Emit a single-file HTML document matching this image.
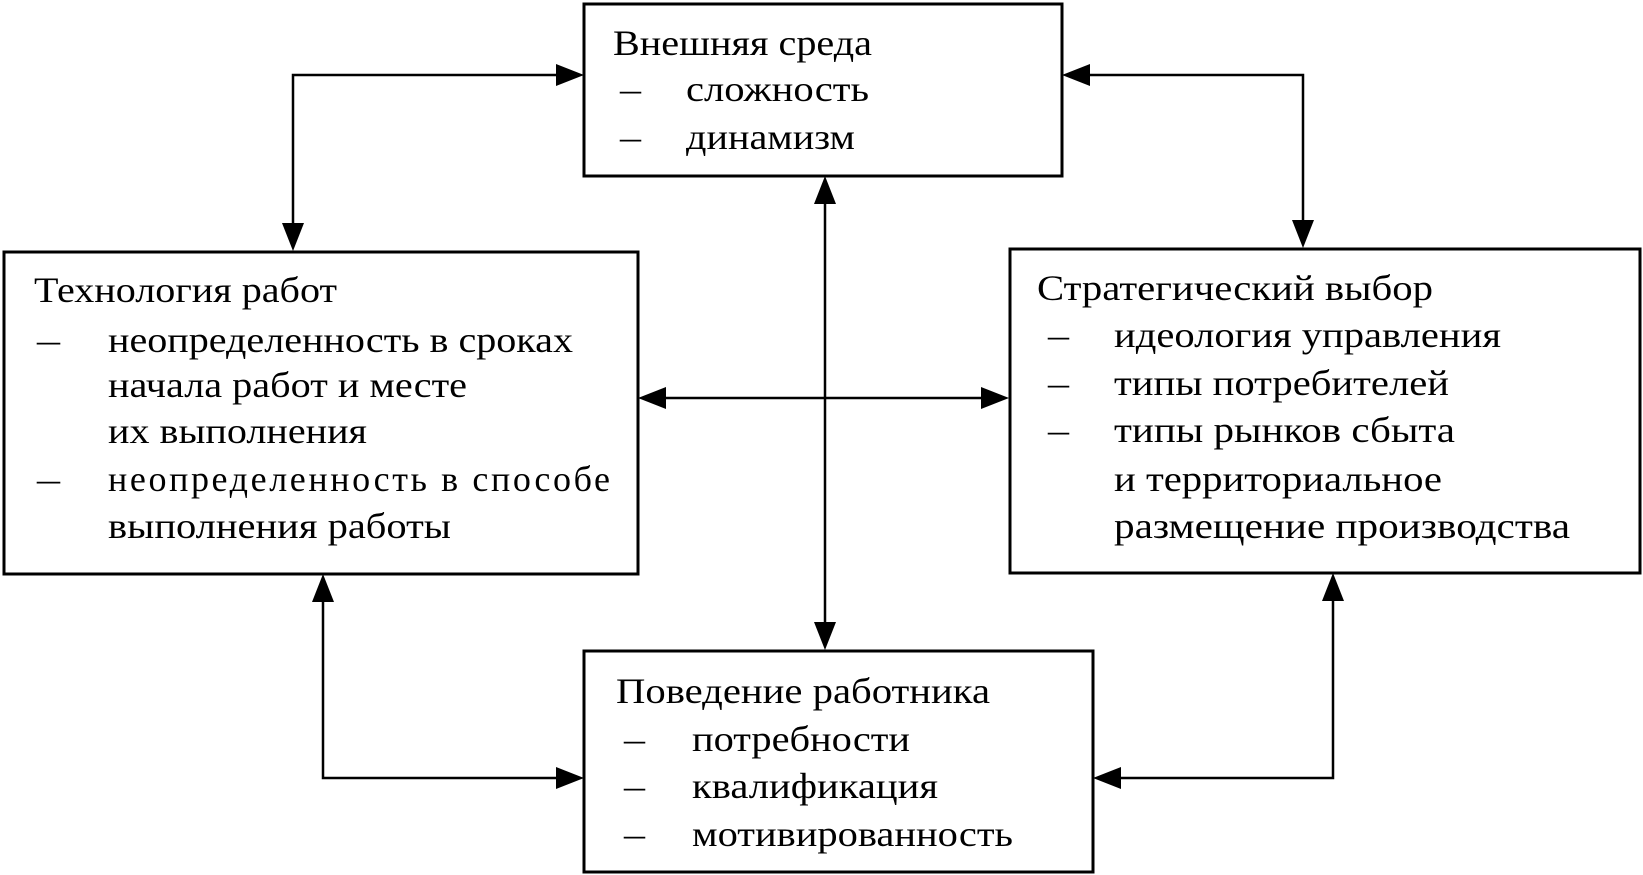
<!DOCTYPE html>
<html><head><meta charset="utf-8"><style>html,body{margin:0;padding:0;background:#fff}svg{display:block}</style></head>
<body>
<svg width="1643" height="875" viewBox="0 0 1643 875" xmlns="http://www.w3.org/2000/svg">
<defs>
<marker id="a" markerWidth="10" markerHeight="8" refX="10" refY="4" orient="auto" markerUnits="userSpaceOnUse" viewBox="0 0 10 8">
</marker>
</defs>
<g fill="none" stroke="#000" stroke-width="3">
<rect x="584" y="4" width="478" height="172"/>
<rect x="4" y="252" width="634" height="322"/>
<rect x="1010" y="249" width="630" height="324"/>
<rect x="584" y="651" width="509" height="221"/>
<g stroke-width="2.5">
<polyline points="556,75 293,75 293,223"/>
<polyline points="1090,75 1303,75 1303,220"/>
<line x1="825" y1="204" x2="825" y2="622"/>
<line x1="666" y1="398" x2="981" y2="398"/>
<polyline points="323,602 323,778 556,778"/>
<polyline points="1333,601 1333,778 1121,778"/>
</g>
</g>
<g fill="#000">
<polygon points="584,75 556,64 556,86"/>
<polygon points="293,251 282,223 304,223"/>
<polygon points="1062,75 1090,64 1090,86"/>
<polygon points="1303,248 1292,220 1314,220"/>
<polygon points="825,176 814,204 836,204"/>
<polygon points="825,650 814,622 836,622"/>
<polygon points="638,398 666,387 666,409"/>
<polygon points="1009,398 981,387 981,409"/>
<polygon points="323,574 312,602 334,602"/>
<polygon points="584,778 556,767 556,789"/>
<polygon points="1333,573 1322,601 1344,601"/>
<polygon points="1093,778 1121,767 1121,789"/>
</g>
<g font-family="'Liberation Serif', serif" font-size="36" fill="#000" lengthAdjust="spacingAndGlyphs">
<text x="613" y="55" textLength="259" lengthAdjust="spacingAndGlyphs">Внешняя среда</text>
<text x="620" y="101" textLength="21" lengthAdjust="spacingAndGlyphs">–</text>
<text x="686" y="101" textLength="183" lengthAdjust="spacingAndGlyphs">сложность</text>
<text x="620" y="149" textLength="21" lengthAdjust="spacingAndGlyphs">–</text>
<text x="686" y="149" textLength="169" lengthAdjust="spacingAndGlyphs">динамизм</text>

<text x="34" y="302" textLength="303" lengthAdjust="spacingAndGlyphs">Технология работ</text>
<text x="37" y="352" textLength="23" lengthAdjust="spacingAndGlyphs">–</text>
<text x="108" y="352" textLength="465" lengthAdjust="spacingAndGlyphs">неопределенность в сроках</text>
<text x="108" y="397" textLength="359" lengthAdjust="spacingAndGlyphs">начала работ и месте</text>
<text x="108" y="443" textLength="259" lengthAdjust="spacingAndGlyphs">их выполнения</text>
<text x="37" y="491" textLength="23" lengthAdjust="spacingAndGlyphs">–</text>
<text x="108" y="491" textLength="502" lengthAdjust="spacing">неопределенность  в  способе</text>
<text x="108" y="538" textLength="343" lengthAdjust="spacingAndGlyphs">выполнения работы</text>

<text x="1037" y="300" textLength="396" lengthAdjust="spacingAndGlyphs">Стратегический выбор</text>
<text x="1048" y="347" textLength="21" lengthAdjust="spacingAndGlyphs">–</text>
<text x="1114" y="347" textLength="387" lengthAdjust="spacingAndGlyphs">идеология управления</text>
<text x="1048" y="395" textLength="21" lengthAdjust="spacingAndGlyphs">–</text>
<text x="1114" y="395" textLength="335" lengthAdjust="spacingAndGlyphs">типы потребителей</text>
<text x="1048" y="442" textLength="21" lengthAdjust="spacingAndGlyphs">–</text>
<text x="1114" y="442" textLength="341" lengthAdjust="spacingAndGlyphs">типы рынков сбыта</text>
<text x="1114" y="491" textLength="328" lengthAdjust="spacingAndGlyphs">и территориальное</text>
<text x="1114" y="538" textLength="456" lengthAdjust="spacingAndGlyphs">размещение производства</text>

<text x="616" y="703" textLength="374" lengthAdjust="spacingAndGlyphs">Поведение работника</text>
<text x="624" y="751" textLength="21" lengthAdjust="spacingAndGlyphs">–</text>
<text x="692" y="751" textLength="218" lengthAdjust="spacingAndGlyphs">потребности</text>
<text x="624" y="798" textLength="21" lengthAdjust="spacingAndGlyphs">–</text>
<text x="692" y="798" textLength="246" lengthAdjust="spacingAndGlyphs">квалификация</text>
<text x="624" y="846" textLength="21" lengthAdjust="spacingAndGlyphs">–</text>
<text x="692" y="846" textLength="321" lengthAdjust="spacingAndGlyphs">мотивированность</text>
</g>
</svg>
</body></html>
